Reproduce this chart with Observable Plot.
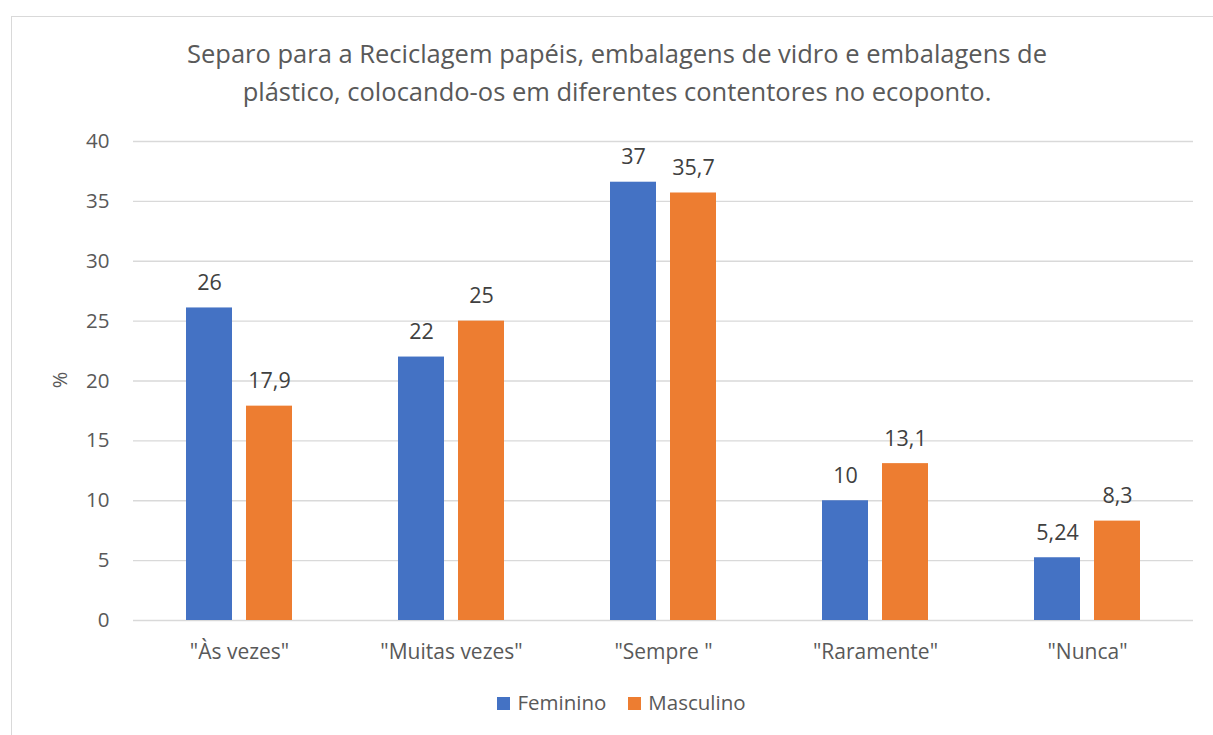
<!DOCTYPE html>
<html><head><meta charset="utf-8">
<script src="https://cdn.jsdelivr.net/npm/d3@7"></script>
<script src="https://cdn.jsdelivr.net/npm/@observablehq/plot@0.6"></script>
<style>
body{margin:0;background:#fff;font-family:"Open Sans","Liberation Sans",sans-serif;}
#wrap{position:relative;width:1213px;height:735px;overflow:hidden;}
#frame{position:absolute;left:11px;top:16px;width:1230px;height:760px;border:1px solid #D9D9D9;box-sizing:border-box;}
#title{position:absolute;left:0;width:1234px;top:34px;text-align:center;font-size:25.5px;line-height:38px;color:#595959;}
#chart{position:absolute;left:0;top:0;}
#legend{position:absolute;left:0;width:1243px;top:688px;text-align:center;font-size:20.5px;line-height:28px;color:#595959;}
#legend span.sw{display:inline-block;width:13px;height:13px;margin-right:7px;vertical-align:0px;}
#legend span.it{margin:0 11px;}
</style></head>
<body><div id="wrap"><div id="frame"></div>
<div id="title">Separo para a Reciclagem papéis, embalagens de vidro e embalagens de<br>plástico, colocando-os em diferentes contentores no ecoponto.</div>
<div id="chart"></div>
<div id="legend"></div>
</div>
<script>
const categories = ['"Às vezes"', '"Muitas vezes"', '"Sempre "', '"Raramente"', '"Nunca"'];
const series = ["Feminino", "Masculino"];
const colors = ["#4472C4", "#ED7D31"];
const feminino = [26.1, 22, 36.6, 10, 5.24];
const masculino = [17.9, 25, 35.7, 13.1, 8.3];
const femininoLabels = ["26", "22", "37", "10", "5,24"];
const masculinoLabels = ["17,9", "25", "35,7", "13,1", "8,3"];
const yTicks = [0, 5, 10, 15, 20, 25, 30, 35, 40];

const data = [];
categories.forEach((c, i) => {
  data.push({cat: c, s: series[0], v: feminino[i], label: femininoLabels[i]});
  data.push({cat: c, s: series[1], v: masculino[i], label: masculinoLabels[i]});
});

const chart = Plot.plot({
  width: 1213,
  height: 680,
  marginTop: 141,
  marginBottom: 60,
  marginLeft: 132,
  marginRight: 19,
  style: {fontFamily: "'Open Sans', 'Liberation Sans', sans-serif", fontSize: "20px", color: "#595959", background: "transparent"},
  fx: {domain: categories, padding: 0, label: null, axis: null},
  x: {domain: series, paddingInner: 0.23, paddingOuter: 0.856, axis: null},
  y: {domain: [0, 40], ticks: yTicks, label: null, grid: false, axis: null},
  color: {domain: series, range: colors},
  marks: [
    Plot.gridY(yTicks, {stroke: "#D9D9D9", strokeOpacity: 1, strokeWidth: 1.3}),
    Plot.barY(data, {fx: "cat", x: "s", y: "v", fill: "s"}),
    Plot.text(data, {fx: "cat", x: "s", y: "v", text: "label", dy: -25, fill: "#404040", fontSize: 21.5, lineAnchor: "middle"}),
    Plot.axisY({ticks: yTicks, tickSize: 0, tickPadding: 24, fontSize: 20.5, fill: "#595959", label: null}),
    Plot.axisFx({anchor: "bottom", tickSize: 0, tickPadding: 24, fontSize: 21, fill: "#595959", label: null}),
  ]
});
document.getElementById("chart").appendChild(chart);

// y-axis label
const svg = d3.select(chart);
svg.append("text").attr("transform", "translate(62,380) rotate(-90)")
  .attr("text-anchor", "middle").attr("dominant-baseline", "middle")
  .attr("fill", "#595959").style("font-size", "20px").text("%");

const leg = document.getElementById("legend");
series.forEach((s, i) => {
  const it = document.createElement("span");
  it.className = "it";
  it.innerHTML = `<span class="sw" style="background:${colors[i]}"></span>${s}`;
  leg.appendChild(it);
});
</script></body></html>
